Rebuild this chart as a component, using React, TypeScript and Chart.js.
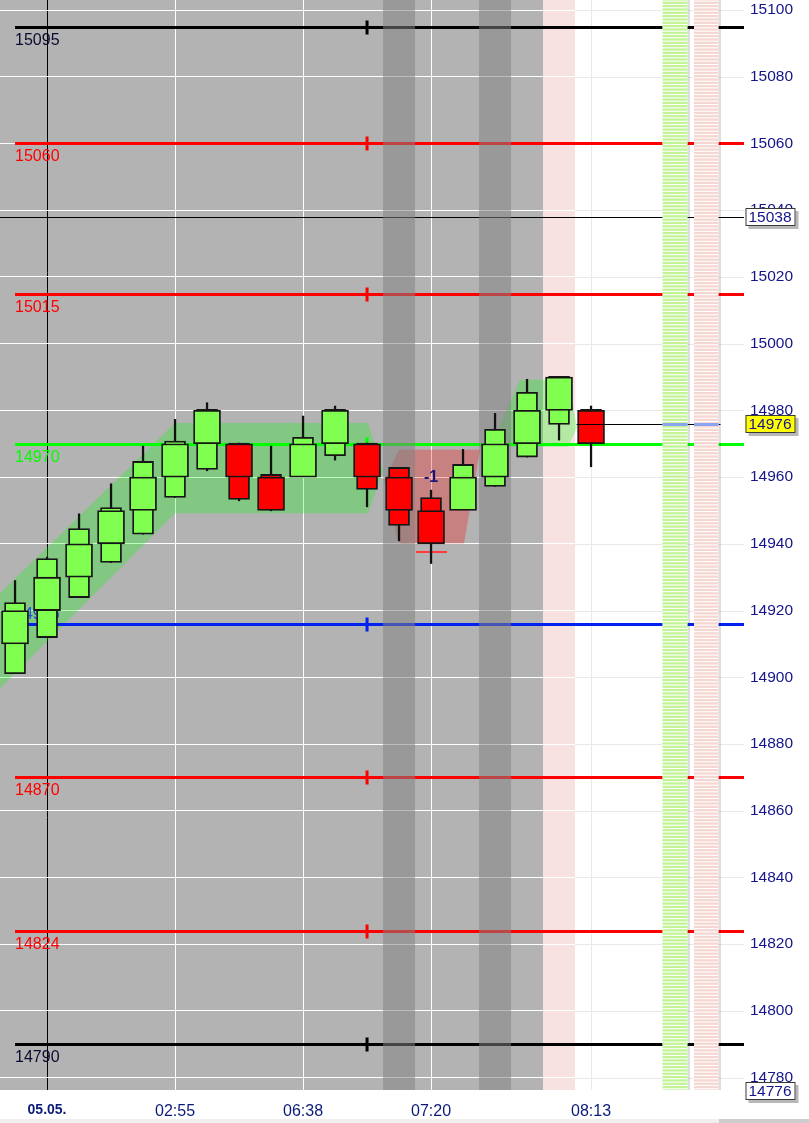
import React, { useEffect, useRef } from "react";
import { Chart, registerables } from "chart.js";

Chart.register(...registerables);

// ---------- data ----------
const candleIndex = [0, 1, 2, 3, 4, 5, 6, 7, 8, 9, 10, 11, 12, 13, 14, 15, 16, 17, 18];
const candleHigh = [14929, 14936, 14949, 14958, 14969.3, 14977.3, 14982.3, 14970.2, 14969.3, 14978.3, 14981.3, 14970.2, 14962.9, 14956.1, 14968.3, 14979.1, 14989.3, 14990.2, 14981.3];
const candleLow = [14901.1, 14911.9, 14923.9, 14934.4, 14942.9, 14953.9, 14961.9, 14952.9, 14949.9, 14960.4, 14965.1, 14951.1, 14940.9, 14934.1, 14950.3, 14957.2, 14966, 14971.1, 14963.1];
const bodyTop = [14922.4, 14935.6, 14944.6, 14950.9, 14964.7, 14970.8, 14980.3, 14970.2, 14960.8, 14971.9, 14980.3, 14970.2, 14962.9, 14953.9, 14963.8, 14974.3, 14985.4, 14990.2, 14980.3];
const bodyBottom = [14901.1, 14911.9, 14923.9, 14934.4, 14942.9, 14953.9, 14962.3, 14953.3, 14950.3, 14960.4, 14966.4, 14956.3, 14945.5, 14940.3, 14950.3, 14957.2, 14966, 14975.8, 14970.4];
const boxTop = [14920, 14930, 14940, 14950, 14960, 14970, 14980, 14970, 14960, 14970, 14980, 14970, 14960, 14950, 14960, 14970, 14980, 14990, 14980];
const boxBottom = [14910, 14920, 14930, 14940, 14950, 14960, 14970, 14960, 14950, 14960, 14970, 14960, 14950, 14940, 14950, 14960, 14970, 14980, 14970];
const candleDirection = ["up", "up", "up", "up", "up", "up", "up", "down", "down", "up", "up", "down", "down", "down", "up", "up", "up", "up", "down"];

const xTickPositions = [1, 5, 9, 13, 18];
const xTickLabels = ["05.05.", "02:55", "06:38", "07:20", "08:13"];
const yTickValues = [14780, 14800, 14820, 14840, 14860, 14880, 14900, 14920, 14940, 14960, 14980, 15000, 15020, 15040, 15060, 15080, 15100];

const levelValues = [15095, 15060, 15015, 14970, 14916, 14870, 14824, 14790];
const levelLabels = ["15095", "15060", "15015", "14970", "14916", "14870", "14824", "14790"];
const levelColors = ["#000000", "#ff0000", "#ff0000", "#00ff00", "#0022ee", "#ff0000", "#ff0000", "#000000"];
const levelLabelColors = ["#0a0a30", "#ff0000", "#ff0000", "#00ff00", "#1f4fe0", "#ff0000", "#ff0000", "#0a0a30"];
const levelLabelAbove = [false, false, false, false, true, false, false, false];
const levelMarkerIndex = 11;

const crossPrice = 15038;
const lastPrice = 14976;
const axisLowPrice = 14776;
const yMin = 14776.3;
const yMax = 15103;
const xMin = -0.47;
const xMax = 22.78;

const darkColumns = [12, 15];
const pinkColumns = [17];
const sessionLastIndex = 16;

const greenBand1Idx = [-0.6, 5, 11.03, 11.5, 11.03, 5, -0.6];
const greenBand1Val = [14924, 14976.2, 14976.2, 14962, 14949.2, 14949.2, 14895.4];
const greenBand2Idx = [14.84, 15.78, 17.03, 17.44, 17.56, 17.28];
const greenBand2Val = [14969.1, 14989.2, 14989.2, 14981.4, 14974.8, 14969.1];
const redBandIdx = [12.0, 11.53, 11.94, 12.03, 14.03, 14.53];
const redBandVal = [14968.2, 14958.9, 14941.5, 14940.1, 14940.1, 14968.2];

const signalIndex = 13;
const signalText = "-1";
const signalValue = 14958.5;
const stopIndex = 13;
const stopValue = 14937.5;
const lastCandleIndex = 18;

// ---------- styles ----------
const FONT = '"Liberation Sans", Arial, sans-serif';
const GREEN = "#80ff50";
const RED = "#ff0000";
const OUTLINE = "#161616";

const overlayPlugin = {
  id: "overlay",
  beforeDraw(chart: any) {
    const { ctx, chartArea: a, scales } = chart;
    const x = scales.x;
    ctx.save();
    ctx.fillStyle = "#ffffff";
    ctx.fillRect(0, 0, chart.width, chart.height);
    const gx = x.getPixelForValue(sessionLastIndex + 0.5);
    ctx.fillStyle = "#b3b3b3";
    ctx.fillRect(a.left, a.top, gx - a.left, a.bottom - a.top);
    ctx.fillStyle = "#f7e1e1";
    pinkColumns.forEach((i) => {
      const l = x.getPixelForValue(i - 0.5);
      const r = x.getPixelForValue(i + 0.5);
      ctx.fillRect(l, a.top, r - l, a.bottom - a.top);
    });
    ctx.restore();
  },
  beforeDatasetsDraw(chart: any) {
    const { ctx, chartArea: a, scales } = chart;
    const x = scales.x;
    const y = scales.y;
    ctx.save();
    ctx.beginPath();
    ctx.rect(a.left, a.top, a.right - a.left, a.bottom - a.top);
    ctx.clip();

    // light grid in the white region
    const wx = x.getPixelForValue(pinkColumns[pinkColumns.length - 1] + 0.5);
    ctx.strokeStyle = "#e9e9e9";
    ctx.lineWidth = 1;
    yTickValues.forEach((v) => {
      const yy = Math.round(y.getPixelForValue(v)) + 0.5;
      ctx.beginPath();
      ctx.moveTo(wx, yy);
      ctx.lineTo(a.right, yy);
      ctx.stroke();
    });
    xTickPositions.forEach((p) => {
      const xx = Math.round(x.getPixelForValue(p)) + 0.5;
      if (xx > wx) {
        ctx.beginPath();
        ctx.moveTo(xx, a.top);
        ctx.lineTo(xx, a.bottom);
        ctx.stroke();
      }
    });

    const poly = (xs: number[], vs: number[], color: string) => {
      ctx.beginPath();
      xs.forEach((xi, k) => {
        const X = x.getPixelForValue(xi);
        const Y = y.getPixelForValue(vs[k]);
        if (k === 0) ctx.moveTo(X, Y);
        else ctx.lineTo(X, Y);
      });
      ctx.closePath();
      ctx.fillStyle = color;
      ctx.fill();
    };
    poly(greenBand1Idx, greenBand1Val, "rgba(0,255,0,0.27)");
    poly(greenBand2Idx, greenBand2Val, "rgba(0,255,0,0.27)");
    poly(redBandIdx, redBandVal, "rgba(255,0,0,0.28)");

    // thin cross line
    const cy = Math.round(y.getPixelForValue(crossPrice)) + 0.5;
    ctx.strokeStyle = "#000000";
    ctx.lineWidth = 1;
    ctx.beginPath();
    ctx.moveTo(a.left, cy);
    ctx.lineTo(a.right, cy);
    ctx.stroke();

    // level lines
    const x0 = x.getPixelForValue(0);
    const mx = x.getPixelForValue(levelMarkerIndex);
    levelValues.forEach((v, k) => {
      const yy = Math.round(y.getPixelForValue(v)) + 0.5;
      ctx.strokeStyle = levelColors[k];
      ctx.lineWidth = 3;
      ctx.beginPath();
      ctx.moveTo(x0, yy);
      ctx.lineTo(a.right, yy);
      ctx.stroke();
      ctx.fillStyle = levelColors[k];
      ctx.fillRect(mx - 1.5, yy - 7, 3, 14);
      ctx.font = `16px ${FONT}`;
      ctx.textAlign = "left";
      ctx.textBaseline = "alphabetic";
      ctx.fillStyle = levelLabelColors[k];
      ctx.fillText(levelLabels[k], x0, levelLabelAbove[k] ? yy - 6 : yy + 17);
    });

    // stop marker
    const sy = Math.round(y.getPixelForValue(stopValue));
    const sx = x.getPixelForValue(stopIndex);
    ctx.fillStyle = "#ff3a3a";
    ctx.fillRect(sx - 15, sy - 1, 31, 2);

    // dark session columns
    ctx.fillStyle = "rgba(131,131,131,0.53)";
    darkColumns.forEach((i) => {
      const l = x.getPixelForValue(i - 0.5);
      const r = x.getPixelForValue(i + 0.5);
      ctx.fillRect(l, a.top, r - l, a.bottom - a.top);
    });
    ctx.restore();
  },
  afterDatasetsDraw(chart: any) {
    const { ctx, chartArea: a, scales } = chart;
    const x = scales.x;
    const y = scales.y;
    ctx.save();
    ctx.beginPath();
    ctx.rect(a.left, a.top, a.right - a.left, a.bottom - a.top);
    ctx.clip();

    const barsL = [a.right - 81.5, a.right - 50];
    const barsR = [a.right - 56.5, a.right - 25.5];
    const stripe = ["#c2f496", "#f5d6d1"];

    // last price line
    const ly = Math.round(y.getPixelForValue(lastPrice)) + 0.5;
    ctx.strokeStyle = "#000000";
    ctx.lineWidth = 1;
    ctx.beginPath();
    ctx.moveTo(x.getPixelForValue(lastCandleIndex - 0.45), ly);
    ctx.lineTo(barsR[1] + 2, ly);
    ctx.stroke();

    // striped side bars
    for (let b = 0; b < 2; b++) {
      const l = barsL[b];
      const r = barsR[b];
      ctx.fillStyle = "#ffffff";
      ctx.fillRect(l, a.top, r - l, a.bottom - a.top);
      ctx.fillStyle = "rgba(0,0,0,0.13)";
      ctx.fillRect(r, a.top, 2.5, a.bottom - a.top);
      ctx.fillStyle = stripe[b];
      for (let p = Math.floor(yMin); p <= Math.ceil(yMax); p++) {
        const t = y.getPixelForValue(p + 0.5);
        const btm = y.getPixelForValue(p - 0.5);
        ctx.fillRect(l, t, r - l, btm - t - 1.1);
      }
    }
    ctx.strokeStyle = "#8aa6f2";
    ctx.lineWidth = 3;
    for (let b = 0; b < 2; b++) {
      ctx.beginPath();
      ctx.moveTo(barsL[b], ly);
      ctx.lineTo(barsR[b], ly);
      ctx.stroke();
    }

    // signal label
    ctx.font = `bold 16px ${FONT}`;
    ctx.fillStyle = "#16167a";
    ctx.textAlign = "center";
    ctx.textBaseline = "alphabetic";
    ctx.fillText(signalText, x.getPixelForValue(signalIndex), y.getPixelForValue(signalValue));
    ctx.restore();
  },
  afterDraw(chart: any) {
    const { ctx, chartArea: a, scales } = chart;
    const y = scales.y;
    ctx.save();
    const box = (v: number, bg: string) => {
      const yy = Math.round(y.getPixelForValue(v));
      const bx = a.right + 1.5;
      const bw = 50;
      const bh = 18;
      const top = yy - 9;
      ctx.fillStyle = "rgba(0,0,0,0.28)";
      ctx.fillRect(bx + 3, top + 3, bw, bh);
      ctx.fillStyle = bg;
      ctx.fillRect(bx, top, bw, bh);
      ctx.strokeStyle = "#3a3a3a";
      ctx.lineWidth = 1;
      ctx.strokeRect(bx + 0.5, top + 0.5, bw - 1, bh - 1);
      ctx.fillStyle = "#14148c";
      ctx.font = `15.5px ${FONT}`;
      ctx.textAlign = "left";
      ctx.textBaseline = "middle";
      ctx.fillText(String(v), bx + 3, yy + 1);
    };
    box(crossPrice, "#ffffff");
    box(lastPrice, "#ffff00");
    box(axisLowPrice, "#ffffff");

    // bottom scrollbar
    ctx.fillStyle = "#efefef";
    ctx.fillRect(0, chart.height - 4, chart.width, 4);
    ctx.fillStyle = "#cdcdcd";
    ctx.fillRect(chart.width - 90, chart.height - 4, 90, 4);
    ctx.restore();
  },
};

export default function App() {
  const canvasRef = useRef<HTMLCanvasElement | null>(null);

  useEffect(() => {
    const canvas = canvasRef.current;
    if (!canvas) return;
    const colors = candleDirection.map((d) => (d === "up" ? GREEN : RED));

    const chart = new Chart(canvas, {
      type: "bar",
      data: {
        datasets: [
          {
            label: "boxes",
            data: candleIndex.map((i) => ({ x: i, y: [boxBottom[i], boxTop[i]] })) as any,
            backgroundColor: colors,
            borderColor: OUTLINE,
            borderWidth: 1.8,
            borderSkipped: false,
            barThickness: 27,
            grouped: false,
            order: 1,
          } as any,
          {
            label: "bodies",
            data: candleIndex.map((i) => ({ x: i, y: [bodyBottom[i], bodyTop[i]] })) as any,
            backgroundColor: colors,
            borderColor: OUTLINE,
            borderWidth: 1.8,
            borderSkipped: false,
            barThickness: 21,
            grouped: false,
            order: 2,
          } as any,
          {
            label: "wicks",
            data: candleIndex.map((i) => ({ x: i, y: [candleLow[i], candleHigh[i]] })) as any,
            backgroundColor: "#111111",
            borderWidth: 0,
            barThickness: 1.6,
            grouped: false,
            order: 3,
          } as any,
        ],
      },
      options: {
        animation: false,
        responsive: false,
        devicePixelRatio: 1,
        layout: { padding: 0 },
        plugins: { legend: { display: false }, tooltip: { enabled: false } },
        scales: {
          x: {
            type: "linear",
            position: "bottom",
            min: xMin,
            max: xMax,
            offset: false,
            grid: {
              offset: false,
              drawTicks: false,
              color: (c: any) => (c.tick && c.tick.value === xTickPositions[0] ? "#000000" : "#ffffff"),
              lineWidth: 1,
            },
            border: { display: false },
            afterBuildTicks: (s: any) => {
              s.ticks = xTickPositions.map((v) => ({ value: v }));
            },
            afterFit: (s: any) => {
              s.height = 33;
              s.paddingLeft = 0;
              s.paddingRight = 0;
            },
            ticks: {
              autoSkip: false,
              maxRotation: 0,
              padding: 12,
              color: "#0a1a78",
              font: (c: any) =>
                c.index === 0
                  ? { family: FONT, size: 14, weight: "bold" }
                  : { family: FONT, size: 16, weight: "normal" },
              callback: (v: any) => {
                const k = xTickPositions.indexOf(Number(v));
                return k >= 0 ? xTickLabels[k] : "";
              },
            },
          } as any,
          y: {
            type: "linear",
            position: "right",
            min: yMin,
            max: yMax,
            grid: { drawTicks: false, color: "#ffffff", lineWidth: 1 },
            border: { display: false },
            afterBuildTicks: (s: any) => {
              s.ticks = yTickValues.map((v) => ({ value: v }));
            },
            afterFit: (s: any) => {
              s.width = 65;
              s.paddingTop = 0;
              s.paddingBottom = 0;
            },
            ticks: {
              padding: 6,
              color: "#14148c",
              font: { family: FONT, size: 15.5 },
              callback: (v: any) => String(v),
            },
          } as any,
        },
      },
      plugins: [overlayPlugin],
    });
    return () => chart.destroy();
  }, []);

  return (
    <div style={{ position: "fixed", left: 0, top: 0, width: 809, height: 1123, background: "#ffffff" }}>
      <canvas ref={canvasRef} width={809} height={1123} style={{ display: "block" }} />
    </div>
  );
}
